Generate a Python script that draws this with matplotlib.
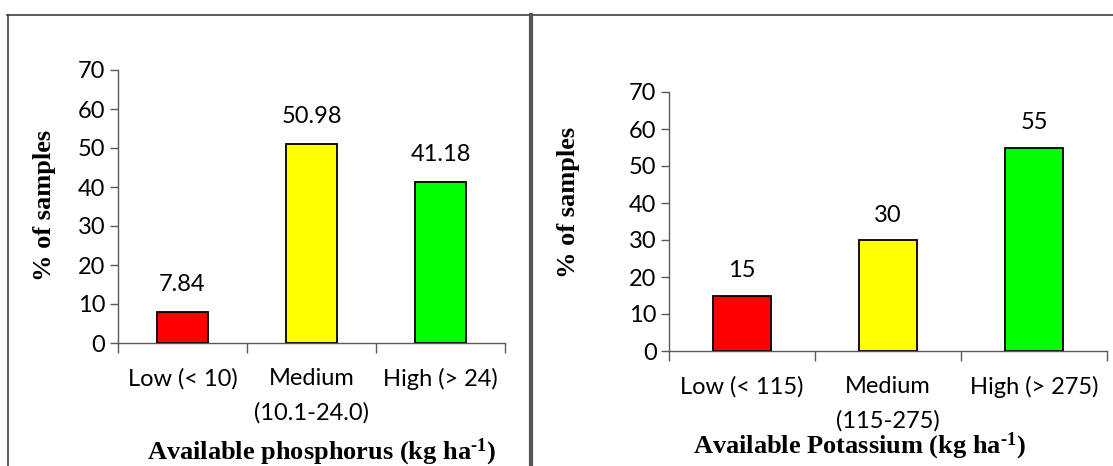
import matplotlib
matplotlib.use("Agg")
import matplotlib.pyplot as plt
from matplotlib.lines import Line2D

# ── Data ───────────────────────────────────────────────
p_classes = ['Low (< 10)', 'Medium\n(10.1-24.0)', 'High (> 24)']
p_values = [7.84, 50.98, 41.18]
p_labels = ['7.84', '50.98', '41.18']

k_classes = ['Low (< 115)', 'Medium\n(115-275)', 'High (> 275)']
k_values = [15, 30, 55]
k_labels = ['15', '30', '55']

bar_colors = ['#ff0000', '#ffff00', '#00ff00']
y_ticks = [0, 10, 20, 30, 40, 50, 60, 70]

plt.rcParams['font.family'] = ['Lato', 'DejaVu Sans']
plt.rcParams['mathtext.fontset'] = 'custom'
plt.rcParams['mathtext.rm'] = 'Liberation Serif:bold'
plt.rcParams['mathtext.default'] = 'rm'

W, H = 1113, 466
fig = plt.figure(figsize=(W / 100, H / 100), dpi=100)

axis_grey = '#595959'
serif_bold = dict(family='Liberation Serif', weight='bold')


def px_rect(x0, y0, x1, y1):
    # pixel box (top-left origin) -> figure fraction rect
    return [x0 / W, 1 - y1 / H, (x1 - x0) / W, (y1 - y0) / H]


def draw_panel(rect, classes, values, labels, xlabel, label_off,
               xlabel_xy, ylabel_xy):
    ax = fig.add_axes(rect)
    pos = range(len(classes))
    ax.bar(pos, values, width=0.4, color=bar_colors,
           edgecolor='black', linewidth=1.3, zorder=3)
    for x, v, t in zip(pos, values, labels):
        ax.annotate(t, (x, v), xytext=(0, label_off), textcoords='offset points',
                    ha='center', va='center', fontsize=17)

    ax.set_xlim(-0.5, len(classes) - 0.5)
    ax.set_ylim(0, 70)
    ax.set_yticks(y_ticks)
    # boundary ticks between categories, labels sit on minor ticks
    ax.set_xticks([-0.5, 0.5, 1.5, 2.5])
    ax.set_xticklabels([])
    ax.set_xticks(list(pos), minor=True)
    ax.set_xticklabels(classes, minor=True, fontsize=17, va='top')
    for lbl in ax.get_xticklabels(minor=True):
        lbl.set_linespacing(1.75)
    ax.tick_params(axis='x', which='minor', length=0, pad=18)
    ax.tick_params(axis='x', which='major', length=7, width=1, color=axis_grey)
    ax.tick_params(axis='y', length=6, width=1, color=axis_grey,
                   labelsize=17, pad=3)

    for s in ['top', 'right']:
        ax.spines[s].set_visible(False)
    for s in ['left', 'bottom']:
        ax.spines[s].set_color(axis_grey)
        ax.spines[s].set_linewidth(1)

    fig.text(ylabel_xy[0] / W, 1 - ylabel_xy[1] / H, '% of samples',
             rotation=90, ha='center', va='center', fontsize=19, **serif_bold)
    fig.text(xlabel_xy[0] / W, 1 - xlabel_xy[1] / H, xlabel,
             ha='center', va='center', fontsize=19, **serif_bold)
    return ax


draw_panel(px_rect(118, 70, 505, 343), p_classes, p_values, p_labels,
           r'Available phosphorus (kg ha$^{\text{-1}}$)', 20,
           (322, 452), (45, 205))
draw_panel(px_rect(669, 92, 1107, 351), k_classes, k_values, k_labels,
           r'Available Potassium (kg ha$^{\text{-1}}$)', 18,
           (859, 446), (569, 202))

# ── Table border lines ─────────────────────────────────
top = 1 - 14.5 / H
fig.add_artist(Line2D([7 / W, 1], [top, top], color='#404040', lw=1.2))
fig.add_artist(Line2D([7.5 / W, 7.5 / W], [0, top], color='#404040', lw=1.2))
fig.add_artist(Line2D([531 / W, 531 / W], [0, top], color='#555555', lw=3))

fig.savefig('out.png', dpi=100)
